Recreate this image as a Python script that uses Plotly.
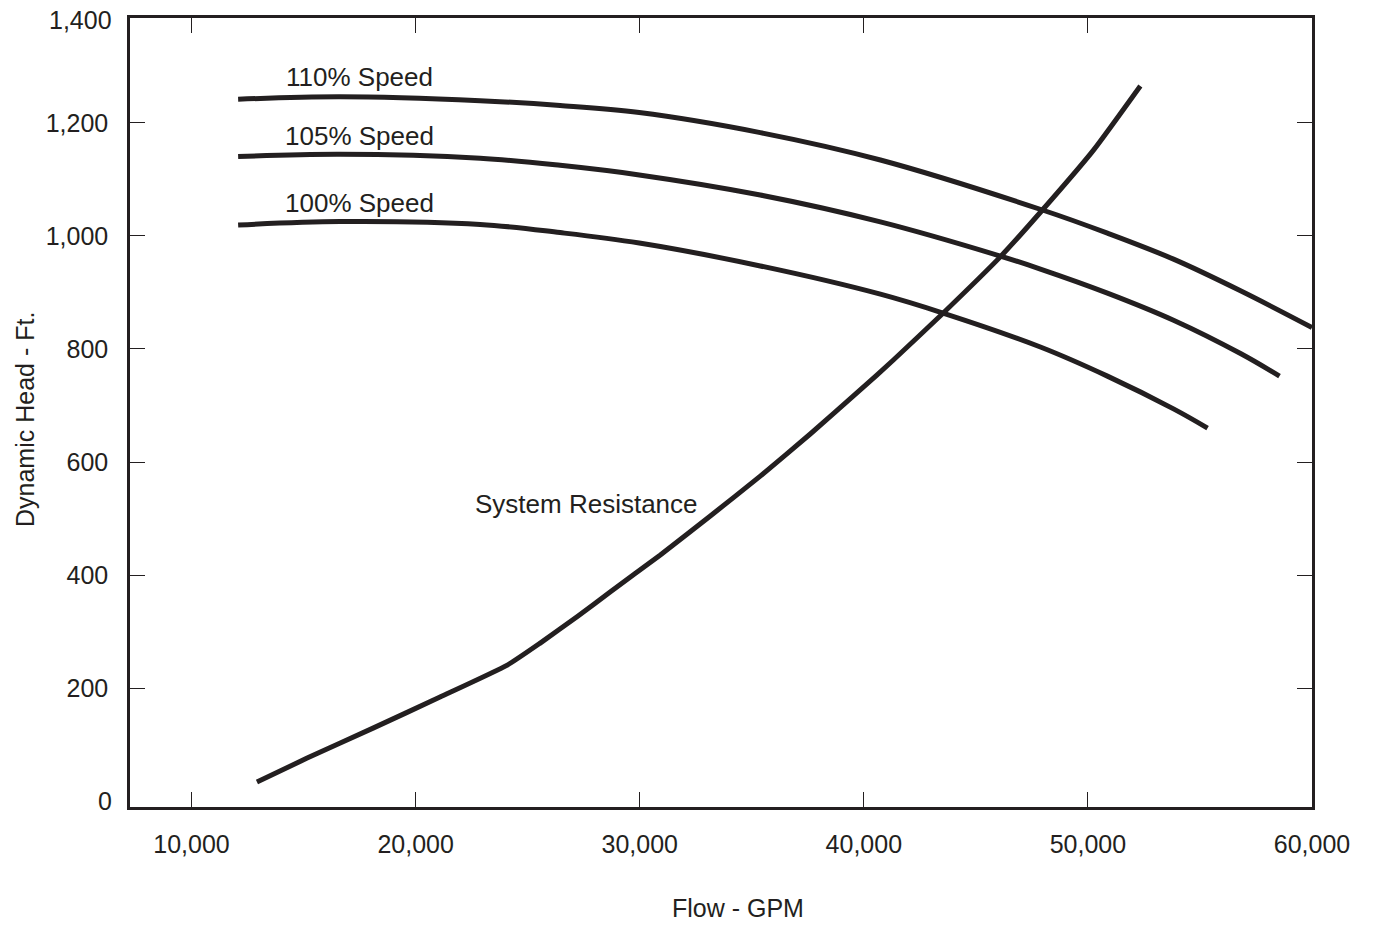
import plotly.graph_objects as go

# Pump head curves at three speeds (flow in GPM, head in ft)
flow_110 = [12080, 16630, 22880, 26450, 29980, 35380, 40740, 47970, 50870, 53820, 56810, 60000]
head_110 = [1242, 1246.5, 1239.5, 1231, 1218.5, 1183, 1134.5, 1046, 1005, 959, 903, 838]

flow_105 = [12080, 16630, 22880, 26450, 29980, 35380, 40740, 46090, 47880, 50870, 53820, 56810, 58550]
head_105 = [1140.5, 1144.5, 1137.5, 1125, 1108, 1072.5, 1025, 964.5, 941.5, 899, 851, 792, 752]

flow_100 = [12080, 16630, 22880, 26450, 29980, 35380, 40740, 43500, 47880, 50870, 53820, 55340]
head_100 = [1019.5, 1025.5, 1020.5, 1006, 987.5, 947, 897, 864, 803.5, 752, 694, 660]

# System resistance curve
flow_sys = [12920, 15160, 18100, 21090, 24090, 25560, 27250, 28680, 30920, 33150,
            35380, 37610, 39840, 41320, 43500, 46090, 47970, 50250, 52340]
head_sys = [33.5, 76, 129, 184, 240.5, 279.5, 327.5, 370, 435.5, 504.5,
            575, 649.5, 727.5, 780.5, 862, 963, 1046, 1152, 1265.5]

x_ticks = [10000, 20000, 30000, 40000, 50000, 60000]
x_tick_text = ["10,000", "20,000", "30,000", "40,000", "50,000", "60,000"]
y_ticks = [200, 400, 600, 800, 1000, 1200]
y_tick_text = ["200", "400", "600", "800", "1,000", "1,200"]

INK = "#231f20"
FONT = "Liberation Sans, Arial, Helvetica, sans-serif"
TICK_SIZE = 25
LABEL_SIZE = 26

fig = go.Figure()
for fx, fy in [(flow_110, head_110), (flow_105, head_105), (flow_100, head_100)]:
    fig.add_trace(go.Scatter(
        x=fx, y=fy, mode="lines",
        line=dict(color=INK, width=5, shape="spline", smoothing=1.0),
        showlegend=False, hoverinfo="skip",
    ))
fig.add_trace(go.Scatter(
    x=flow_sys, y=head_sys, mode="lines",
    line=dict(color=INK, width=5, shape="spline", smoothing=0.5),
    showlegend=False, hoverinfo="skip",
))

axis_common = dict(
    showline=True, linecolor=INK, linewidth=2.5, mirror="ticks",
    ticks="inside", ticklen=15, tickwidth=1.2, tickcolor=INK,
    showgrid=False, zeroline=False,
    tickfont=dict(family=FONT, size=TICK_SIZE, color=INK),
)

fig.update_xaxes(range=[7255, 60000], tickvals=x_ticks, ticktext=x_tick_text,
                 ticklabelstandoff=13, **axis_common)
fig.update_yaxes(range=[-10.6, 1385.8], tickvals=y_ticks, ticktext=y_tick_text,
                 ticklabelstandoff=14, **axis_common)

plot_h = 925 - 18 - 118
plot_w = 1374 - 130 - 62

label_font = dict(family=FONT, size=LABEL_SIZE, color=INK)
tick_font = dict(family=FONT, size=TICK_SIZE, color=INK)
annotations = [
    dict(x=17478, y=1281, xref="x", yref="y", text="110% Speed", showarrow=False, font=label_font),
    dict(x=17478, y=1177, xref="x", yref="y", text="105% Speed", showarrow=False, font=label_font),
    dict(x=17478, y=1058, xref="x", yref="y", text="100% Speed", showarrow=False, font=label_font),
    dict(x=27612, y=526, xref="x", yref="y", text="System Resistance", showarrow=False, font=label_font),
    # end labels of the head axis sit on the frame edges
    dict(x=0, y=0, xref="paper", yref="paper", xanchor="right", yanchor="middle", xshift=-16, yshift=6,
         text="0", showarrow=False, font=tick_font),
    dict(x=0, y=1, xref="paper", yref="paper", xanchor="right", yanchor="middle", xshift=-16, yshift=-2,
         text="1,400", showarrow=False, font=tick_font),
    # axis titles
    dict(x=(738 - 130) / plot_w, y=(807 - 908) / plot_h, xref="paper", yref="paper",
         xanchor="center", yanchor="middle",
         text="Flow - GPM", showarrow=False, font=tick_font),
    dict(x=(25 - 130) / plot_w, y=(807 - 420) / plot_h, xref="paper", yref="paper",
         xanchor="center", yanchor="middle",
         text="Dynamic Head - Ft.", textangle=-90, showarrow=False, font=tick_font),
]
fig.update_layout(
    width=1374, height=925,
    margin=dict(l=130, r=62, t=18, b=118),
    paper_bgcolor="white", plot_bgcolor="white",
    annotations=annotations,
)

fig.write_html("out.html")
